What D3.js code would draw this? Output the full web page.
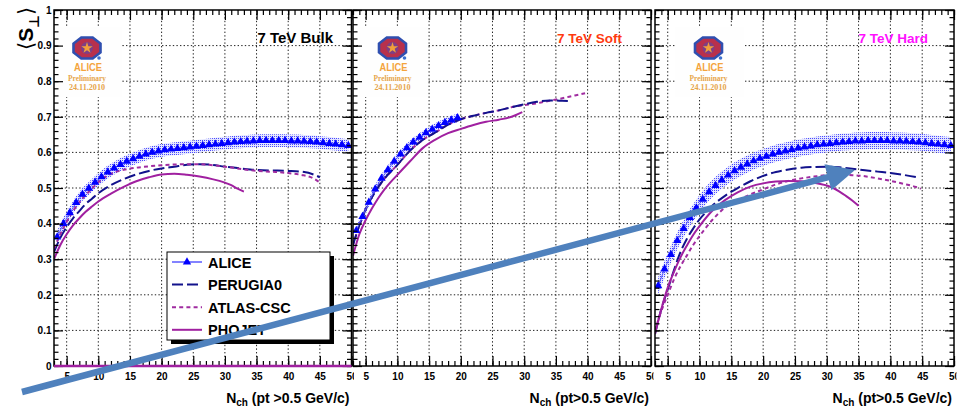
<!DOCTYPE html>
<html>
<head>
<meta charset="utf-8">
<script src="https://cdn.jsdelivr.net/npm/d3@7"></script>
<style>
  body { margin: 0; background: #fff; }
  svg { display: block; }
  text { font-family: "Liberation Sans", Arial, Helvetica, sans-serif; }
</style>
</head>
<body>
<svg id="chart" width="959" height="407"></svg>
<script>
// ---------------- data ----------------
const xMajorTicks = [5, 10, 15, 20, 25, 30, 35, 40, 45, 50];
const yMajorTicks = [0, 0.1, 0.2, 0.3, 0.4, 0.5, 0.6, 0.7, 0.8, 0.9, 1];
const yTickLabels = ["0", "0.1", "0.2", "0.3", "0.4", "0.5", "0.6", "0.7", "0.8", "0.9", "1"];
const panelTitles = ["7 TeV Bulk", "7 TeV Soft", "7 TeV Hard"];
const xTitles = ["(pt >0.5 GeV/c)", "(pt>0.5 GeV/c)", "(pt>0.5 GeV/c)"];
const legendLabels = ["ALICE", "PERUGIA0", "ATLAS-CSC", "PHOJET"];

// ALICE measurement (bin centres) and systematic half-width per class
const aliceNchFull = [3.5,4.5,5.5,6.5,7.5,8.5,9.5,10.5,11.5,12.5,13.5,14.5,15.5,16.5,17.5,18.5,19.5,
  20.5,21.5,22.5,23.5,24.5,25.5,26.5,27.5,28.5,29.5,30.5,31.5,32.5,33.5,34.5,35.5,36.5,37.5,38.5,39.5,
  40.5,41.5,42.5,43.5,44.5,45.5,46.5,47.5,48.5,49.5];
const aliceNchSoft = [3.5,4.5,5.5,6.5,7.5,8.5,9.5,10.5,11.5,12.5,13.5,14.5,15.5,16.5,17.5,18.5,19.5];
const aliceBulk = [0.362,0.400,0.430,0.459,0.482,0.499,0.516,0.531,0.545,0.556,0.566,0.575,0.582,0.589,
  0.595,0.600,0.604,0.607,0.609,0.611,0.613,0.615,0.617,0.619,0.621,0.623,0.625,0.627,0.629,0.630,0.631,
  0.632,0.633,0.633,0.633,0.633,0.633,0.632,0.632,0.631,0.630,0.629,0.627,0.625,0.623,0.621,0.619];
const aliceSoft = [0.380,0.420,0.460,0.497,0.527,0.551,0.575,0.595,0.613,0.629,0.642,0.655,0.665,0.675,
  0.684,0.691,0.697];
const aliceHard = [0.225,0.272,0.313,0.352,0.386,0.417,0.444,0.468,0.489,0.507,0.522,0.536,0.548,0.558,
  0.567,0.576,0.583,0.589,0.595,0.600,0.604,0.608,0.612,0.615,0.618,0.621,0.623,0.625,0.627,0.629,0.630,
  0.632,0.632,0.633,0.633,0.633,0.633,0.632,0.632,0.631,0.630,0.629,0.627,0.625,0.623,0.621,0.619];
const aliceSys = [0.018, 0.012, 0.024];

// PERUGIA0
const perugiaBulkN = [3,4,5,6,7,8,9,10,12,14,16,18,20,22,24,26,28,30,32,34,36,38,40,42,44,45];
const perugiaBulk  = [0.32,0.36,0.39,0.415,0.435,0.455,0.47,0.485,0.508,0.525,0.538,0.548,0.555,0.56,
  0.565,0.567,0.565,0.56,0.556,0.552,0.55,0.549,0.548,0.546,0.538,0.53];
const perugiaSoftN = [3,4,5,6,7,8,10,12,14,16,18,20,22,24,26,28,30,32,34,36,37.5];
const perugiaSoft  = [0.34,0.395,0.44,0.475,0.503,0.527,0.565,0.605,0.635,0.656,0.678,0.693,0.703,
  0.711,0.718,0.727,0.735,0.742,0.746,0.745,0.744];
const perugiaHardN = [3,4,5,6,7,8,9,10,11,12,14,16,18,20,22,24,26,28,30,32,34,36,38,40,42,44,44.6];
const perugiaHard  = [0.09,0.16,0.215,0.27,0.32,0.357,0.386,0.412,0.432,0.45,0.478,0.5,0.519,0.534,
  0.545,0.552,0.557,0.559,0.56,0.558,0.554,0.55,0.546,0.542,0.537,0.531,0.529];

// ATLAS-CSC
const atlasBulkN = [3,4,5,6,7,8,9,10,12,14,16,18,20,22,24,26,28,30,32,34,36,38,40,42,44,44.8];
const atlasBulk  = [0.33,0.37,0.405,0.435,0.46,0.48,0.498,0.516,0.54,0.551,0.557,0.561,0.564,0.566,
  0.567,0.567,0.564,0.56,0.555,0.55,0.547,0.545,0.542,0.537,0.527,0.518];
const atlasSoftN = [3,4,5,6,7,8,10,12,14,16,18,20,22,24,26,28,30,32,34,36,38,39.6];
const atlasSoft  = [0.34,0.395,0.44,0.475,0.503,0.527,0.565,0.605,0.635,0.656,0.678,0.693,0.703,
  0.711,0.718,0.727,0.733,0.738,0.745,0.752,0.76,0.766];
const atlasHardN = [3,4,5,6,7,8,9,10,12,14,16,18,20,22,24,26,28,30,32,34,36,38,40,42,44,44.8];
const atlasHard  = [0.1,0.155,0.2,0.244,0.28,0.31,0.34,0.365,0.41,0.445,0.465,0.482,0.496,0.51,0.52,
  0.527,0.532,0.536,0.537,0.536,0.533,0.527,0.52,0.512,0.503,0.498];

// PHOJET
const phojetBulkN = [3,4,5,6,7,8,9,10,12,14,16,18,20,22,24,26,28,30,31,32,33];
const phojetBulk  = [0.30,0.34,0.37,0.395,0.415,0.433,0.448,0.462,0.484,0.503,0.519,0.53,0.538,0.54,
  0.537,0.532,0.525,0.515,0.508,0.498,0.49];
const phojetSoftN = [3,4,5,6,7,8,9,10,12,14,16,18,20,22,24,26,28,29.7];
const phojetSoft  = [0.31,0.37,0.41,0.443,0.472,0.497,0.518,0.537,0.575,0.612,0.636,0.654,0.666,0.677,
  0.686,0.692,0.7,0.713];
const phojetHardN = [3,4,5,6,7,8,9,10,12,14,16,18,20,22,24,26,28,30,31,32,33,34,35];
const phojetHard  = [0.09,0.16,0.22,0.265,0.305,0.338,0.368,0.393,0.436,0.466,0.488,0.504,0.513,0.518,
  0.52,0.519,0.515,0.507,0.5,0.49,0.478,0.465,0.45];
// empty PHOJET bins drawn along zero in the bulk class
const phojetBulkZeroN = [3, 50];
const phojetBulkZero  = [0, 0];

// ---------------- styles ----------------
const colors = { alice: "#0000ff", aliceLine: "#5a5aff", perugia: "#12128c", atlas: "#a02ca0",
                 phojet: "#a020a0", arrow: "#4f81bd" };
const dashes = { perugia: "11,4", atlas: "4,3.2", phojet: null };

// ---------------- layout ----------------
const W = 959, H = 407;
const yTop = 10, yBot = 366;
const panels = [
  { x0: 54,  x1: 351.5, logoCx: 87,    titleRight: 333, titleSize: 15,   titleColor: "#000000" },
  { x0: 353, x1: 651,   logoCx: 392.5, titleRight: 622, titleSize: 13.5, titleColor: "#ff3a10" },
  { x0: 655, x1: 954,   logoCx: 708.5, titleRight: 928, titleSize: 13.5, titleColor: "#ff10ff" }
];
const classData = [
  { aliceN: aliceNchFull, alice: aliceBulk,
    models: [
      { key: "perugia", n: perugiaBulkN, v: perugiaBulk },
      { key: "atlas",   n: atlasBulkN,   v: atlasBulk },
      { key: "phojet",  n: phojetBulkN,  v: phojetBulk } ] },
  { aliceN: aliceNchSoft, alice: aliceSoft,
    models: [
      { key: "phojet",  n: phojetSoftN,  v: phojetSoft },
      { key: "atlas",   n: atlasSoftN,   v: atlasSoft },
      { key: "perugia", n: perugiaSoftN, v: perugiaSoft } ] },
  { aliceN: aliceNchFull, alice: aliceHard,
    models: [
      { key: "perugia", n: perugiaHardN, v: perugiaHard },
      { key: "atlas",   n: atlasHardN,   v: atlasHard },
      { key: "phojet",  n: phojetHardN,  v: phojetHard } ] }
];

const svg = d3.select("#chart");
svg.append("rect").attr("width", W).attr("height", H).attr("fill", "#fff");

const defs = svg.append("defs");
const pat = defs.append("pattern").attr("id", "sysDots")
  .attr("width", 2).attr("height", 2).attr("patternUnits", "userSpaceOnUse");
pat.append("rect").attr("width", 2).attr("height", 2).attr("fill", "#e4e6ff");
pat.append("rect").attr("width", 1).attr("height", 1).attr("fill", "#4848ff");

const yScale = d3.scaleLinear().domain([0, 1]).range([yBot, yTop]);

function drawLogo(g, cx) {
  g.append("rect").attr("x", cx - 33).attr("y", 27).attr("width", 68).attr("height", 70)
    .attr("fill", "#fefefe");
  const cy = 48, rx = 13.5, ry = 10.5, k = 0.42;
  const oct = [[-k*rx,-ry],[k*rx,-ry],[rx,-k*ry],[rx,k*ry],[k*rx,ry],[-k*rx,ry],[-rx,k*ry],[-rx,-k*ry]]
    .map(p => [cx + p[0], cy + p[1]]);
  g.append("polygon").attr("points", oct.map(p => p.join(",")).join(" "))
    .attr("fill", "#b8304c").attr("stroke", "#2f4fb0").attr("stroke-width", 2.6);
  g.append("circle").attr("cx", cx).attr("cy", cy).attr("r", 6).attr("fill", "#7d3f86");
  g.append("path").attr("transform", `translate(${cx},${cy})`)
    .attr("d", d3.symbol(d3.symbolStar, 40)()).attr("fill", "#f2a03a");
  g.append("circle").attr("cx", cx + 12).attr("cy", cy + 10).attr("r", 1.8).attr("fill", "#3b6fd0");
  g.append("text").attr("x", cx + 1).attr("y", 70.5).attr("text-anchor", "middle")
    .attr("font-size", 11.5).attr("font-weight", "bold").attr("fill", "#f4a43c")
    .attr("textLength", 28).attr("lengthAdjust", "spacingAndGlyphs").text("ALICE");
  g.append("text").attr("x", cx).attr("y", 80.5).attr("text-anchor", "middle")
    .style("font-family", "'Liberation Serif', 'DejaVu Serif', serif")
    .attr("font-size", 8).attr("font-weight", "bold").attr("fill", "#e6a54a")
    .attr("textLength", 38).attr("lengthAdjust", "spacingAndGlyphs").text("Preliminary");
  g.append("text").attr("x", cx).attr("y", 89.5).attr("text-anchor", "middle")
    .style("font-family", "'Liberation Serif', 'DejaVu Serif', serif")
    .attr("font-size", 8).attr("font-weight", "bold").attr("fill", "#e6a54a")
    .attr("textLength", 36).attr("lengthAdjust", "spacingAndGlyphs").text("24.11.2010");
}

panels.forEach((p, i) => {
  const x = d3.scaleLinear().domain([3, 50]).range([p.x0, p.x1]);
  const g = svg.append("g");
  const clipId = "clip" + i, labClipId = "labclip" + i;
  defs.append("clipPath").attr("id", clipId).append("rect")
    .attr("x", p.x0).attr("y", yTop).attr("width", p.x1 - p.x0).attr("height", yBot - yTop);
  defs.append("clipPath").attr("id", labClipId).append("rect")
    .attr("x", p.x0 - 20).attr("y", 0).attr("width", p.x1 - p.x0 + 22.5).attr("height", H);

  // dotted grid
  const grid = g.append("g").attr("stroke", "#222").attr("stroke-width", 1)
    .attr("stroke-dasharray", "1.4,2.2");
  grid.selectAll("line.v").data(xMajorTicks.filter(t => t < 50)).join("line")
    .attr("x1", d => x(d)).attr("x2", d => x(d)).attr("y1", yTop).attr("y2", yBot);
  grid.selectAll("line.h").data(yMajorTicks.filter(t => t > 0 && t < 1)).join("line")
    .attr("x1", p.x0).attr("x2", p.x1).attr("y1", d => yScale(d)).attr("y2", d => yScale(d));

  drawLogo(g, p.logoCx);

  const cd = classData[i];
  const plot = g.append("g").attr("clip-path", `url(#${clipId})`);

  // ALICE systematic band
  const sys = aliceSys[i];
  const band = d3.area().x((d, j) => x(cd.aliceN[j]))
    .y0(d => yScale(d - sys)).y1(d => yScale(d + sys));
  plot.append("path").datum(cd.alice).attr("d", band).attr("fill", "url(#sysDots)");

  // model curves
  cd.models.forEach(m => {
    const line = d3.line().x((d, j) => x(m.n[j])).y(d => yScale(d)).curve(d3.curveMonotoneX);
    plot.append("path").datum(m.v).attr("d", line).attr("fill", "none")
      .attr("stroke", colors[m.key]).attr("stroke-width", 2)
      .attr("stroke-dasharray", dashes[m.key]);
  });

  // ALICE points
  const aLine = d3.line().x((d, j) => x(cd.aliceN[j])).y(d => yScale(d));
  plot.append("path").datum(cd.alice).attr("d", aLine).attr("fill", "none")
    .attr("stroke", colors.aliceLine).attr("stroke-width", 1);
  plot.selectAll("path.tri").data(cd.alice).join("path").attr("class", "tri")
    .attr("transform", (d, j) => `translate(${x(cd.aliceN[j])},${yScale(d)})`)
    .attr("d", d3.symbol(d3.symbolTriangle, 30)()).attr("fill", colors.alice);

  // axes with inward ticks
  const axes = g.append("g").attr("font-size", 11).attr("font-weight", "bold");
  const xMinor = d3.range(3, 51);
  const yMinor = d3.range(0, 51).map(v => v / 50);
  const addAxis = (parent, gen, tr) => {
    const a = parent.append("g").attr("transform", tr).call(gen);
    a.select(".domain").remove();
    a.selectAll(".tick line").attr("stroke", "#000").attr("stroke-width", 1.2);
    a.selectAll("text").attr("fill", "#000").attr("font-family", "'Liberation Sans', Arial, sans-serif");
    return a;
  };
  const xLabHolder = axes.append("g").attr("clip-path", `url(#${labClipId})`);
  addAxis(xLabHolder, d3.axisBottom(x).tickValues(xMajorTicks).tickSize(-10).tickPadding(7)
    .tickFormat(d3.format("d")), `translate(0,${yBot})`);
  addAxis(axes, d3.axisBottom(x).tickValues(xMinor).tickSize(-5).tickFormat(""), `translate(0,${yBot})`);
  addAxis(axes, d3.axisTop(x).tickValues(xMajorTicks).tickSize(-10).tickFormat(""), `translate(0,${yTop})`);
  addAxis(axes, d3.axisTop(x).tickValues(xMinor).tickSize(-5).tickFormat(""), `translate(0,${yTop})`);
  addAxis(axes, d3.axisLeft(yScale).tickValues(yMajorTicks).tickSize(-9).tickPadding(2.5)
    .tickFormat((d, j) => i === 0 ? yTickLabels[j] : ""), `translate(${p.x0},0)`);
  addAxis(axes, d3.axisLeft(yScale).tickValues(yMinor).tickSize(-4.5).tickFormat(""), `translate(${p.x0},0)`);
  addAxis(axes, d3.axisRight(yScale).tickValues(yMajorTicks).tickSize(-9).tickFormat(""), `translate(${p.x1},0)`);
  addAxis(axes, d3.axisRight(yScale).tickValues(yMinor).tickSize(-4.5).tickFormat(""), `translate(${p.x1},0)`);

  // frame
  g.append("rect").attr("x", p.x0).attr("y", yTop).attr("width", p.x1 - p.x0).attr("height", yBot - yTop)
    .attr("fill", "none").attr("stroke", "#000").attr("stroke-width", 1.5);
  if (i === 0) {
    // zero-valued PHOJET bins sit on the lower frame edge
    const z = d3.line().x((d, j) => x(phojetBulkZeroN[j])).y(d => yScale(d));
    g.append("path").datum(phojetBulkZero).attr("d", z).attr("stroke", colors.phojet)
      .attr("stroke-width", 2.5).attr("fill", "none");
  }

  // class title
  g.append("text").attr("x", p.titleRight).attr("y", 43).attr("text-anchor", "end")
    .attr("font-size", p.titleSize).attr("font-weight", "bold").attr("fill", p.titleColor)
    .text(panelTitles[i]);

  // x title
  const xt = g.append("text").attr("x", p.x1 - 2).attr("y", 403).attr("text-anchor", "end")
    .attr("font-size", 14).attr("font-weight", "bold").attr("fill", "#000");
  xt.append("tspan").text("N");
  xt.append("tspan").attr("font-size", 10).attr("dy", 3).text("ch");
  xt.append("tspan").attr("dy", -3).text(" " + xTitles[i]);
});

// y title  <S_perp>
const yt = svg.append("text").attr("transform", "translate(33,50) rotate(-90)")
  .attr("font-size", 21).attr("font-weight", "bold").attr("fill", "#000");
yt.append("tspan").style("font-family", "'DejaVu Sans', sans-serif").attr("font-weight", "normal").text("\u27E8");
yt.append("tspan").text("S");
yt.append("tspan").attr("font-size", 14).attr("dy", 6).style("font-family", "'DejaVu Sans', sans-serif").text("\u22A5");
yt.append("tspan").attr("dy", -6).style("font-family", "'DejaVu Sans', sans-serif").attr("font-weight", "normal").text("\u27E9");

// legend
const lg = svg.append("g");
lg.append("rect").attr("x", 171).attr("y", 256).attr("width", 163).attr("height", 88).attr("fill", "#000");
lg.append("rect").attr("x", 167).attr("y", 252).attr("width", 163).attr("height", 88)
  .attr("fill", "#fff").attr("stroke", "#000").attr("stroke-width", 1);
const legendKeys = ["alice", "perugia", "atlas", "phojet"];
legendKeys.forEach((k, j) => {
  const base = 267.5 + j * 22.6;
  const ys = base - 5.5;
  lg.append("line").attr("x1", 172).attr("x2", 202).attr("y1", ys).attr("y2", ys)
    .attr("stroke", k === "alice" ? colors.aliceLine : colors[k])
    .attr("stroke-width", k === "alice" ? 1.5 : 2)
    .attr("stroke-dasharray", k === "alice" ? null : dashes[k]);
  if (k === "alice") {
    lg.append("path").attr("transform", `translate(187,${ys})`)
      .attr("d", d3.symbol(d3.symbolTriangle, 30)()).attr("fill", colors.alice);
  }
  lg.append("text").attr("x", 208).attr("y", base).attr("font-size", 14.5).attr("font-weight", "bold")
    .attr("fill", "#000").text(legendLabels[j]);
});

// annotation arrow across the classes
const arrowFrom = [22, 392], arrowTip = [855, 170];
const dx = arrowTip[0] - arrowFrom[0], dy = arrowTip[1] - arrowFrom[1];
const len = Math.hypot(dx, dy), ux = dx / len, uy = dy / len;
const headLen = 28, headHalf = 13.5;
const bx = arrowTip[0] - ux * headLen, by = arrowTip[1] - uy * headLen;
svg.append("line").attr("x1", arrowFrom[0]).attr("y1", arrowFrom[1]).attr("x2", bx + ux * 2).attr("y2", by + uy * 2)
  .attr("stroke", colors.arrow).attr("stroke-width", 6.5);
svg.append("polygon").attr("points", [
  arrowTip, [bx - uy * headHalf, by + ux * headHalf], [bx + uy * headHalf, by - ux * headHalf]
].map(q => q.join(",")).join(" ")).attr("fill", colors.arrow);
</script>
</body>
</html>
